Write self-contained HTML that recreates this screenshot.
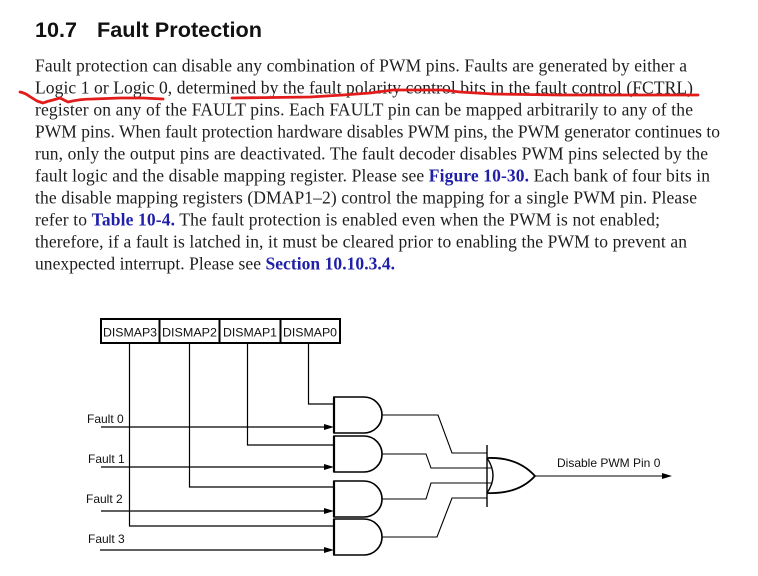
<!DOCTYPE html>
<html><head><meta charset="utf-8"><style>
html,body{margin:0;padding:0;background:#fff;}
svg{display:block;}
.b{font-family:"Liberation Serif",serif;font-size:17.5px;fill:#1e1e1e;}
.lk{font-weight:bold;fill:#1f1fa8;}
.s{font-family:"Liberation Sans",sans-serif;font-size:12px;fill:#111;}
</style></head><body>
<svg width="758" height="576" viewBox="0 0 758 576" xmlns="http://www.w3.org/2000/svg">
<rect width="758" height="576" fill="#fff"/>
<text x="35" y="37" font-family="Liberation Sans, sans-serif" font-weight="bold" font-size="21" fill="#111" textLength="42" lengthAdjust="spacingAndGlyphs">10.7</text>
<text x="97" y="37" font-family="Liberation Sans, sans-serif" font-weight="bold" font-size="21" fill="#111" textLength="165" lengthAdjust="spacingAndGlyphs">Fault Protection</text>

<text class="b" x="35" y="71.5" textLength="652" lengthAdjust="spacing">Fault protection can disable any combination of PWM pins. Faults are generated by either a</text>
<text class="b" x="35" y="93.5" textLength="658" lengthAdjust="spacing">Logic 1 or Logic 0, determined by the fault polarity control bits in the fault control (FCTRL)</text>
<text class="b" x="35" y="115.5" textLength="658" lengthAdjust="spacing">register on any of the FAULT pins. Each FAULT pin can be mapped arbitrarily to any of the</text>
<text class="b" x="35" y="137.5" textLength="685" lengthAdjust="spacing">PWM pins. When fault protection hardware disables PWM pins, the PWM generator continues to</text>
<text class="b" x="35" y="159.5" textLength="673" lengthAdjust="spacing">run, only the output pins are deactivated. The fault decoder disables PWM pins selected by the</text>
<text class="b" x="35" y="181.5" textLength="675" lengthAdjust="spacing">fault logic and the disable mapping register. Please see <tspan class="lk">Figure 10-30.</tspan> Each bank of four bits in</text>
<text class="b" x="35" y="203.5" textLength="662" lengthAdjust="spacing">the disable mapping registers (DMAP1–2) control the mapping for a single PWM pin. Please</text>
<text class="b" x="35" y="225.5" textLength="625" lengthAdjust="spacing">refer to <tspan class="lk">Table 10-4.</tspan> The fault protection is enabled even when the PWM is not enabled;</text>
<text class="b" x="35" y="247.5" textLength="652" lengthAdjust="spacing">therefore, if a fault is latched in, it must be cleared prior to enabling the PWM to prevent an</text>
<text class="b" x="35" y="269.5" textLength="360" lengthAdjust="spacing">unexpected interrupt. Please see <tspan class="lk">Section 10.10.3.4.</tspan></text>

<!-- red hand-drawn underlines -->
<path d="M20,92 Q25,93 29,96 L37,101 L43,103 Q48,101 53,100 L60,98 L68,102 Q80,99 93,99 L120,98 L143,98 L163,99" fill="none" stroke="#e21b1b" stroke-width="2.8" stroke-linecap="round" stroke-linejoin="round"/>
<path d="M232,98 L310,97 L343,95 L370,93 L393,90 L443,90 L460,92 L493,94 L560,95 L698,95" fill="none" stroke="#e21b1b" stroke-width="2.8" stroke-linecap="round" stroke-linejoin="round"/>

<!-- DISMAP register boxes -->
<g fill="none" stroke="#000" stroke-width="2">
<rect x="101" y="319" width="239" height="24"/>
<line x1="159.5" y1="319" x2="159.5" y2="343"/>
<line x1="219.5" y1="319" x2="219.5" y2="343"/>
<line x1="280.5" y1="319" x2="280.5" y2="343"/>
</g>
<text class="s" x="103" y="336.5" textLength="54" lengthAdjust="spacingAndGlyphs">DISMAP3</text>
<text class="s" x="162" y="336.5" textLength="55" lengthAdjust="spacingAndGlyphs">DISMAP2</text>
<text class="s" x="223" y="336.5" textLength="54" lengthAdjust="spacingAndGlyphs">DISMAP1</text>
<text class="s" x="283" y="336.5" textLength="54" lengthAdjust="spacingAndGlyphs">DISMAP0</text>

<!-- DISMAP connection lines -->
<g fill="none" stroke="#000" stroke-width="1.2">
<polyline points="129.5,343 129.5,526 334,526"/>
<polyline points="189.5,343 189.5,487 334,487"/>
<polyline points="247.5,343 247.5,445 334,445"/>
<polyline points="308.5,343 308.5,404 334,404"/>
<!-- Fault lines -->
<line x1="101" y1="427" x2="328" y2="427"/>
<line x1="101" y1="467" x2="328" y2="467"/>
<line x1="101" y1="511" x2="328" y2="511"/>
<line x1="100" y1="550" x2="328" y2="550"/>
</g>
<g fill="#000">
<polygon points="334,427 324,424 324,430"/>
<polygon points="334,467 324,464 324,470"/>
<polygon points="334,511 324,508 324,514"/>
<polygon points="334,550 324,547 324,553"/>
</g>
<text class="s" x="87" y="423">Fault 0</text>
<text class="s" x="88" y="463">Fault 1</text>
<text class="s" x="86" y="503">Fault 2</text>
<text class="s" x="88" y="543">Fault 3</text>

<!-- AND gates -->
<g fill="#fff" stroke="#000" stroke-width="1.6">
<path d="M334,397 L364,397 A18,18 0 0 1 364,433 L334,433 Z"/>
<path d="M334,436 L364,436 A18,18 0 0 1 364,472 L334,472 Z"/>
<path d="M334,481 L364,481 A18,18 0 0 1 364,517 L334,517 Z"/>
<path d="M334,519 L364,519 A18,18 0 0 1 364,555 L334,555 Z"/>
</g>
<g fill="none" stroke="#000" stroke-width="2.2">
<line x1="334" y1="397" x2="334" y2="433"/>
<line x1="334" y1="436" x2="334" y2="472"/>
<line x1="334" y1="481" x2="334" y2="517"/>
<line x1="334" y1="519" x2="334" y2="555"/>
</g>

<!-- AND outputs to OR -->
<g fill="none" stroke="#000" stroke-width="1.1">
<polyline points="382,415 438,415 452,453 487,453"/>
<polyline points="382,454 426,454 431,468 492,468"/>
<polyline points="382,499 426,499 431,483 492,483"/>
<polyline points="382,537 437,537 452,498 487,498"/>
</g>

<!-- OR gate -->
<g fill="none" stroke="#000" stroke-width="1.4">
<line x1="487" y1="445" x2="487" y2="507"/>
<path d="M487,458 Q499,475.5 487,493"/>
<path d="M487,458 C510,457 525,465 535,476" stroke-width="1.8"/>
<path d="M487,493 C510,494 525,487 535,476" stroke-width="1.8"/>
<line x1="535" y1="476" x2="664" y2="476" stroke-width="1.1"/>
</g>
<polygon points="672,476 662,473 662,479" fill="#000"/>
<text class="s" x="557" y="467">Disable PWM Pin 0</text>
</svg>
</body></html>
